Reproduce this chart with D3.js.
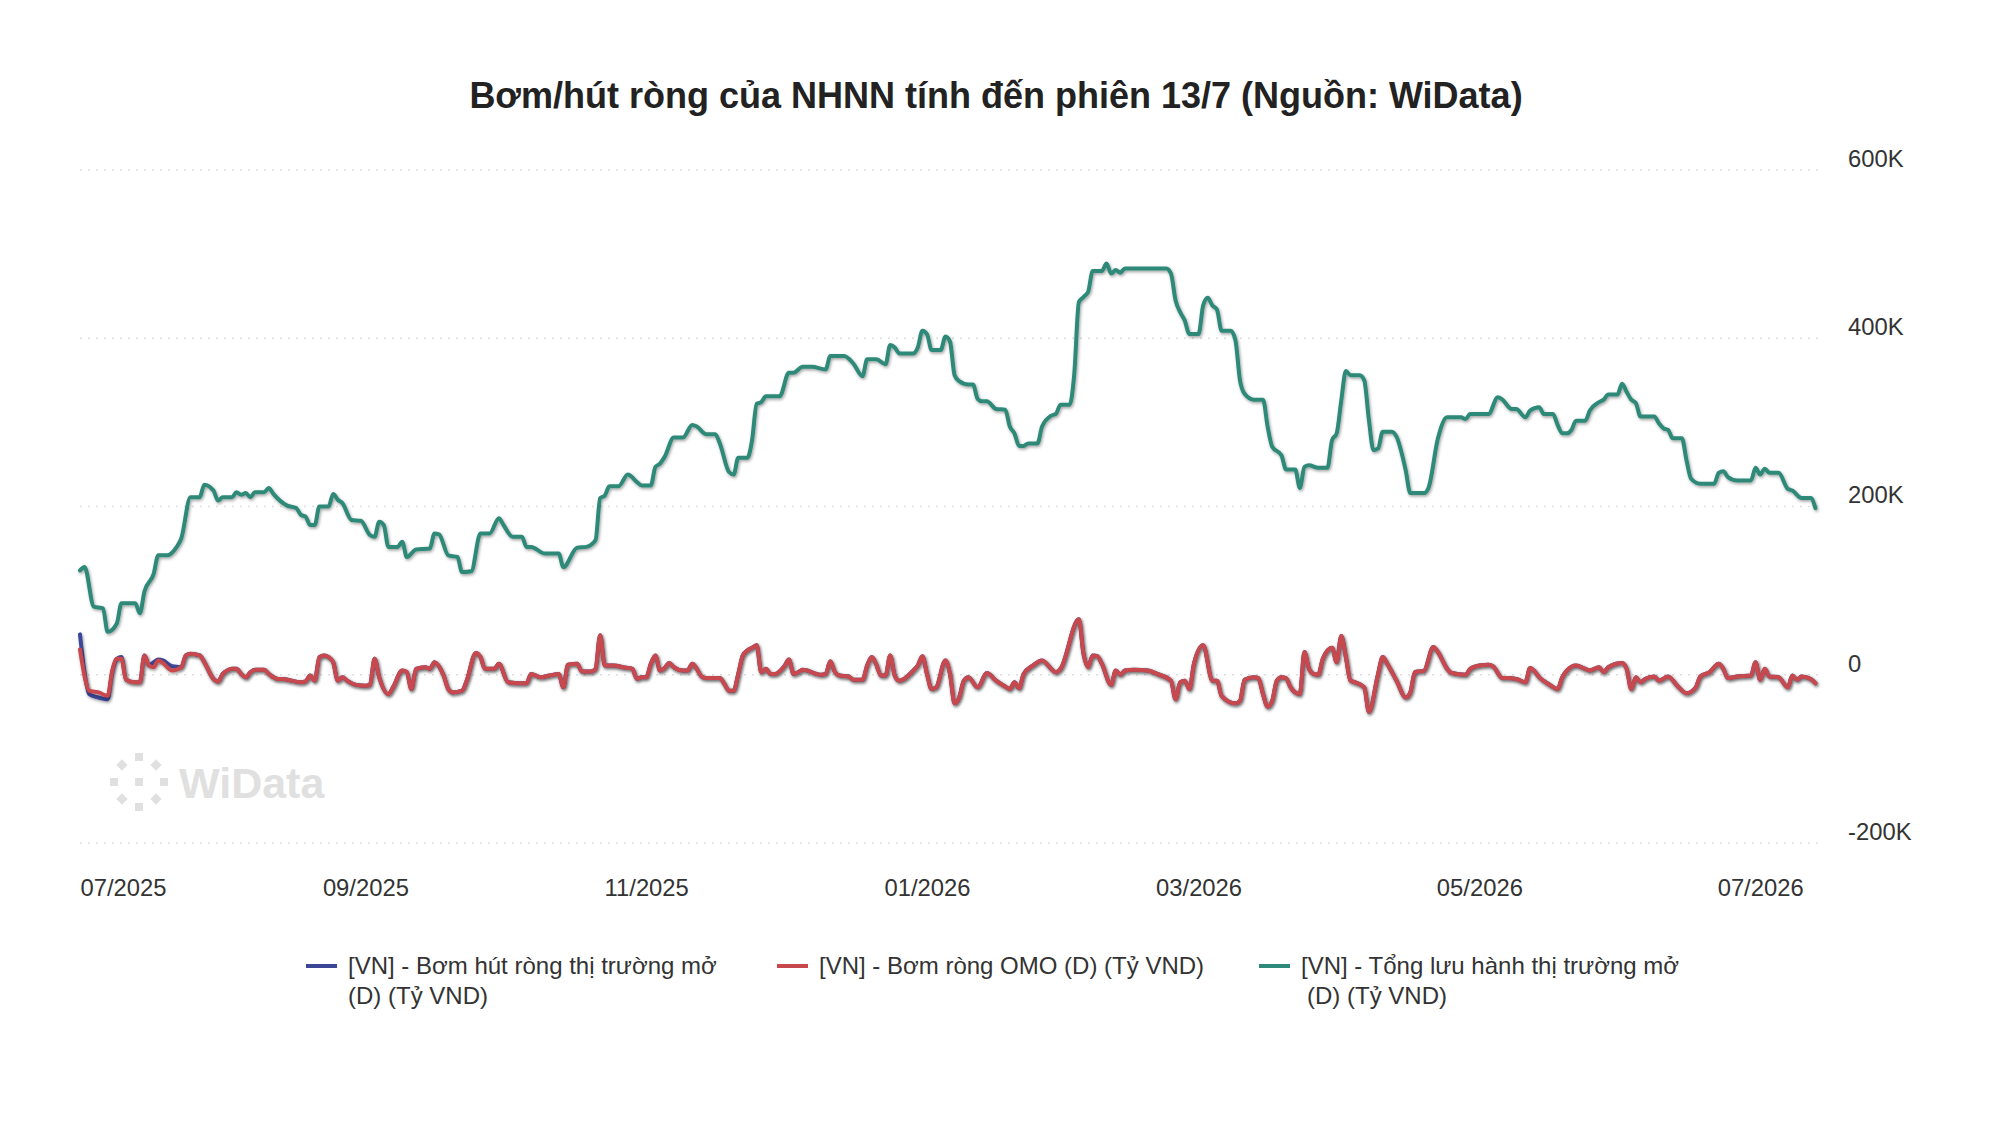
<!DOCTYPE html>
<html>
<head>
<meta charset="utf-8">
<script src="https://cdn.jsdelivr.net/npm/d3@7"></script>
<style>
  body { margin: 0; background: #fff; font-family: "Liberation Sans", Arial, Helvetica, sans-serif; }
  text { font-family: "Liberation Sans", Arial, Helvetica, sans-serif; }
</style>
</head>
<body>
<script>
// ---- data (days counted from 01/07/2025, values in K tỷ VND) ----

var startDate = new Date(2025, 6, 1),
    endDate = new Date(2026, 6, 14);

// OMO series share the same sessions
var omoDays = [
  0,1,2,4,6,7,8,9,10,12,13,14,15,16,17,18,20,22,23,24,
  26,27,29,30,31,32,33,34,35,36,37,38,40,41,43,44,46,48,49,50,
  51,52,53,54,55,56,57,58,60,62,63,64,65,67,68,70,71,72,73,75,
  76,77,79,80,81,83,84,86,87,88,90,91,93,95,97,98,100,102,104,105,
  106,108,109,111,112,113,114,116,118,120,121,122,123,124,125,126,127,128,129,131,
  132,133,134,135,136,139,140,141,142,143,144,145,146,147,148,149,150,151,153,154,
  155,156,157,158,160,161,162,163,164,165,167,168,170,171,172,173,174,175,176,177,
  178,179,181,182,183,184,185,186,188,189,190,191,192,193,195,197,199,201,202,203,
  204,205,207,209,212,213,217,218,219,220,221,222,224,225,226,227,229,232,234,237,
  238,239,240,241,242,244,246,247,248,251,252,253,255,256,257,258,259,260,261,262,
  263,264,265,266,267,268,269,270,272,273,274,275,276,277,279,280,282,283,284,286,
  288,289,290,291,292,294,295,297,298,301,302,304,306,307,309,310,312,314,315,316,
  317,319,321,322,323,325,327,328,330,331,332,335,336,337,338,339,340,342,343,345,
  347,349,351,352,354,356,357,358,360,363,364,365,366,367,369,371,372,373,374,376,377
];

// [VN] - Bơm hút ròng thị trường mở
var netOpen = [
  48,2,-23,-27,-29,3,19,21,-6,-9,-9,23,11,15,18,17,10,9,23,25,
  23,15,-5,-8,1,5,7,7,1,-3,3,6,6,1,-5,-5,-7,-9,-8,-1,
  -7,21,23,21,15,-7,-3,-7,-12,-13,-12,19,-3,-23,-15,5,3,-17,7,9,
  7,15,-1,-17,-21,-19,-7,26,21,7,7,13,-9,-10,-10,1,-3,-1,1,-15,
  12,13,4,4,7,47,11,11,9,7,-5,-3,-3,13,23,5,8,14,9,5,
  5,13,7,-2,-4,-4,-11,-19,-19,1,23,29,32,35,3,7,1,1,10,18,
  1,3,6,5,1,0,1,16,3,-1,-2,-6,-6,11,21,12,-1,-1,23,-1,
  -7,-5,5,11,22,1,-17,-15,17,1,-34,-27,-7,-3,-15,2,-7,-14,-17,-9,
  -16,1,11,17,3,7,66,25,9,23,22,13,-12,5,0,5,6,5,1,-7,
  -29,-9,-7,-17,13,35,-7,-7,-25,-34,-31,-6,-3,-4,-23,-38,-31,-7,-3,-4,
  -15,-21,-23,27,7,1,0,19,32,15,46,21,-7,-9,-15,-44,1,21,13,-7,
  -27,-21,3,4,5,33,27,7,2,0,7,11,12,10,-4,-4,-5,-9,8,4,
  -3,-11,-17,-3,5,11,7,5,9,3,9,14,7,-17,-3,-9,-5,-2,-7,-2,
  -13,-22,-15,-2,3,13,7,-4,-2,-1,15,-6,7,-2,-3,-15,-1,-6,-2,-5,-10
];

// [VN] - Bơm ròng OMO
var netOmo = [
  30,-2,-19,-21,-25,5,19,19,-6,-9,-9,23,11,9,17,14,5,9,23,25,
  23,15,-5,-8,1,5,7,7,1,-3,3,6,6,1,-5,-5,-7,-9,-8,-1,
  -7,21,23,21,15,-7,-3,-7,-12,-13,-12,19,-3,-23,-15,5,3,-17,7,9,
  7,15,-1,-17,-21,-19,-7,26,21,7,7,13,-9,-10,-10,1,-3,-1,1,-15,
  12,13,4,4,7,47,11,11,9,7,-5,-3,-3,13,23,5,8,14,9,5,
  5,13,7,-2,-4,-4,-11,-19,-19,1,23,29,32,35,3,7,1,1,10,18,
  1,3,6,5,1,0,1,16,3,-1,-2,-6,-6,11,21,12,-1,-1,23,-1,
  -7,-5,5,11,22,1,-17,-15,17,1,-34,-27,-7,-3,-15,2,-7,-14,-17,-9,
  -16,1,11,17,3,7,66,25,9,23,22,13,-12,5,0,5,6,5,1,-7,
  -29,-9,-7,-17,13,35,-7,-7,-25,-34,-31,-6,-3,-4,-23,-38,-31,-7,-3,-4,
  -15,-21,-23,27,7,1,0,19,32,15,46,21,-7,-9,-15,-44,1,21,13,-7,
  -27,-21,3,4,5,33,27,7,2,0,7,11,12,10,-4,-4,-5,-9,8,4,
  -3,-11,-17,-3,5,11,7,5,9,3,9,14,7,-17,-3,-9,-5,-2,-7,-2,
  -13,-22,-15,-2,3,13,7,-4,-2,-1,15,-6,7,-2,-3,-15,-1,-6,-2,-5,-10
];

// [VN] - Tổng lưu hành thị trường mở
var outDays = [
  0,1,3,5,6,8,9,12,13,14,16,17,19,21,22,24,26,27,29,30,
  31,33,34,35,36,37,38,40,41,42,45,47,48,49,50,51,52,54,55,56,
  57,59,61,63,64,65,66,67,69,70,71,73,76,77,78,80,82,83,85,87,
  89,91,92,94,96,97,98,101,104,105,108,110,112,113,114,115,117,119,121,122,
  124,125,126,127,129,131,133,134,136,138,139,141,142,143,145,146,147,148,149,152,
  154,155,157,159,162,163,166,168,170,171,173,175,176,177,178,181,182,183,184,185,
  187,188,189,190,191,193,194,195,196,197,199,201,202,203,204,205,206,208,209,211,
  212,213,215,216,217,218,219,220,222,223,224,225,226,227,236,237,238,239,240,241,
  243,244,245,246,247,248,250,251,252,253,255,257,258,259,261,262,264,265,266,267,
  269,271,272,273,274,275,276,278,279,280,281,282,283,285,286,288,289,292,293,295,
  297,300,301,302,306,308,309,311,312,314,315,317,318,320,321,322,323,324,325,327,
  328,330,331,332,334,335,336,337,338,339,342,343,344,345,346,348,349,350,352,355,
  356,357,358,360,363,364,365,366,367,369,371,372,374,376,377
];
var outstanding = [
  124,128,81,79,51,61,85,85,73,99,120,142,142,152,162,211,211,226,219,207,
  211,211,217,214,216,211,217,217,222,215,201,198,190,188,178,178,200,200,215,208,
  204,184,183,166,164,182,178,152,152,158,140,149,150,168,167,142,140,122,123,168,
  168,186,178,164,164,152,152,144,144,128,151,152,160,210,213,224,224,238,229,225,
  225,247,251,259,282,282,297,295,286,286,275,241,238,258,258,279,322,324,331,331,
  359,359,366,366,363,379,379,370,355,375,375,369,392,389,382,382,389,409,405,386,
  386,402,396,356,349,345,345,328,325,325,316,315,295,287,272,272,275,275,295,308,
  310,321,321,358,443,449,455,480,480,489,477,481,478,483,483,477,445,431,421,405,
  405,439,448,439,434,409,409,398,350,334,327,327,295,271,261,244,244,222,247,249,
  246,246,279,287,326,361,356,356,350,303,267,269,289,289,283,243,216,216,223,281,
  306,306,304,310,310,330,327,316,316,306,314,318,310,310,297,287,287,291,302,302,
  314,324,327,333,333,346,336,327,323,307,307,299,293,291,281,281,255,233,227,227,
  240,242,235,231,231,246,238,245,240,240,221,219,210,210,198
];

var yTicks = [-200, 0, 200, 400, 600];
var xTickLabels = ["07/2025", "09/2025", "11/2025", "01/2026", "03/2026", "05/2026", "07/2026"];

var seriesNames = [
  ["[VN] - Bơm hút ròng thị trường mở", "(D) (Tỷ VND)"],
  ["[VN] - Bơm ròng OMO (D) (Tỷ VND)"],
  ["[VN] - Tổng lưu hành thị trường mở", "(D) (Tỷ VND)"]
];
var seriesColors = ["#3b4796", "#c8494d", "#2e8978"];

var title = "Bơm/hút ròng của NHNN tính đến phiên 13/7 (Nguồn: WiData)";

// ---- setup ----

var width = 2000,
    height = 1144;

var svg = d3.select("body").append("svg")
    .attr("width", width)
    .attr("height", height);

var defs = svg.append("defs");
defs.append("filter")
    .attr("id", "shadow")
    .attr("x", "-5%").attr("y", "-20%")
    .attr("width", "110%").attr("height", "140%")
  .append("feDropShadow")
    .attr("dx", 1).attr("dy", 1.5)
    .attr("stdDeviation", 1.4)
    .attr("flood-color", "#000")
    .attr("flood-opacity", 0.38);

var x = d3.scaleTime().domain([startDate, endDate]).range([80, 1820]);
var y = d3.scaleLinear().domain([-200, 600]).range([843, 170]);

function toDate(d) { return d3.timeDay.offset(startDate, d); }

// title
svg.append("text")
    .attr("x", 996)
    .attr("y", 108)
    .attr("text-anchor", "middle")
    .attr("font-size", 36)
    .attr("font-weight", "bold")
    .attr("fill", "#222")
    .text(title);

// grid lines
svg.append("g").selectAll("line")
    .data(yTicks)
  .enter().append("line")
    .attr("x1", 80).attr("x2", 1820)
    .attr("y1", function(d) { return y(d); })
    .attr("y2", function(d) { return y(d); })
    .attr("stroke", "#dedede")
    .attr("stroke-width", 1.5)
    .attr("stroke-dasharray", "2,6");

// watermark
var wm = svg.append("g").attr("transform", "translate(139,782)").attr("fill", "#e0e0e0");
var dots = [[0,-25,0],[0,25,0],[-25,0,0],[25,0,0],[-17,-17,45],[17,-17,45],[-17,17,45],[17,17,45],[0,0,0]];
wm.selectAll("rect").data(dots).enter().append("rect")
    .attr("x", -4).attr("y", -4).attr("width", 8).attr("height", 8)
    .attr("transform", function(d) { return "translate(" + d[0] + "," + d[1] + ") rotate(" + d[2] + ")"; });
wm.append("text")
    .attr("x", 40).attr("y", 16)
    .attr("font-size", 43)
    .attr("font-weight", "bold")
    .text("WiData");

// y axis on the right
var yAxis = d3.axisRight(y)
    .tickValues(yTicks)
    .tickSize(0)
    .tickPadding(0)
    .tickFormat(function(d) { return d === 0 ? "0" : d + "K"; });

var gy = svg.append("g")
    .attr("transform", "translate(1848,0)")
    .call(yAxis);
gy.select(".domain").remove();
gy.selectAll("text")
    .attr("dy", "-0.15em")
    .attr("font-size", 23.8)
    .attr("fill", "#333")
    .style("font-family", "'Liberation Sans', Arial, sans-serif");

// x axis
var parseMonth = d3.timeParse("%m/%Y");
var xAxis = d3.axisBottom(x)
    .tickValues(xTickLabels.map(parseMonth))
    .tickSize(0)
    .tickPadding(0)
    .tickFormat(d3.timeFormat("%m/%Y"));

var gx = svg.append("g")
    .attr("transform", "translate(0,879)")
    .call(xAxis);
gx.select(".domain").remove();
gx.selectAll("text")
    .attr("font-size", 23.8)
    .attr("fill", "#333")
    .style("font-family", "'Liberation Sans', Arial, sans-serif");
// first label is pushed inside the plot
gx.select(".tick text").attr("text-anchor", "start");

// lines
var line = d3.line()
    .x(function(d) { return x(toDate(d[0])); })
    .y(function(d) { return y(d[1]); })
    .curve(d3.curveMonotoneX);

var series = [
  d3.zip(omoDays, netOpen),
  d3.zip(omoDays, netOmo),
  d3.zip(outDays, outstanding)
];

svg.append("g").selectAll("path")
    .data(series)
  .enter().append("path")
    .attr("d", line)
    .attr("fill", "none")
    .attr("stroke", function(d, i) { return seriesColors[i]; })
    .attr("stroke-width", 4)
    .attr("stroke-linejoin", "round")
    .attr("stroke-linecap", "round")
    .attr("filter", "url(#shadow)");

// legend
var legendX = [306, 777, 1259];
var legend = svg.append("g").selectAll("g")
    .data(seriesNames)
  .enter().append("g")
    .attr("transform", function(d, i) { return "translate(" + legendX[i] + ",966)"; });

legend.append("line")
    .attr("x1", 0).attr("x2", 31)
    .attr("stroke", function(d, i) { return seriesColors[i]; })
    .attr("stroke-width", 4);

legend.append("text")
    .attr("font-size", 24)
    .attr("fill", "#333")
    .selectAll("tspan")
    .data(function(d, i) { return d.map(function(t) { return [t, i]; }); })
  .enter().append("tspan")
    .attr("x", function(d, j) { return d[1] === 2 && j > 0 ? 48 : 42; })
    .attr("y", function(d, j) { return 8 + j * 30; })
    .text(function(d) { return d[0]; });
</script>
</body>
</html>
